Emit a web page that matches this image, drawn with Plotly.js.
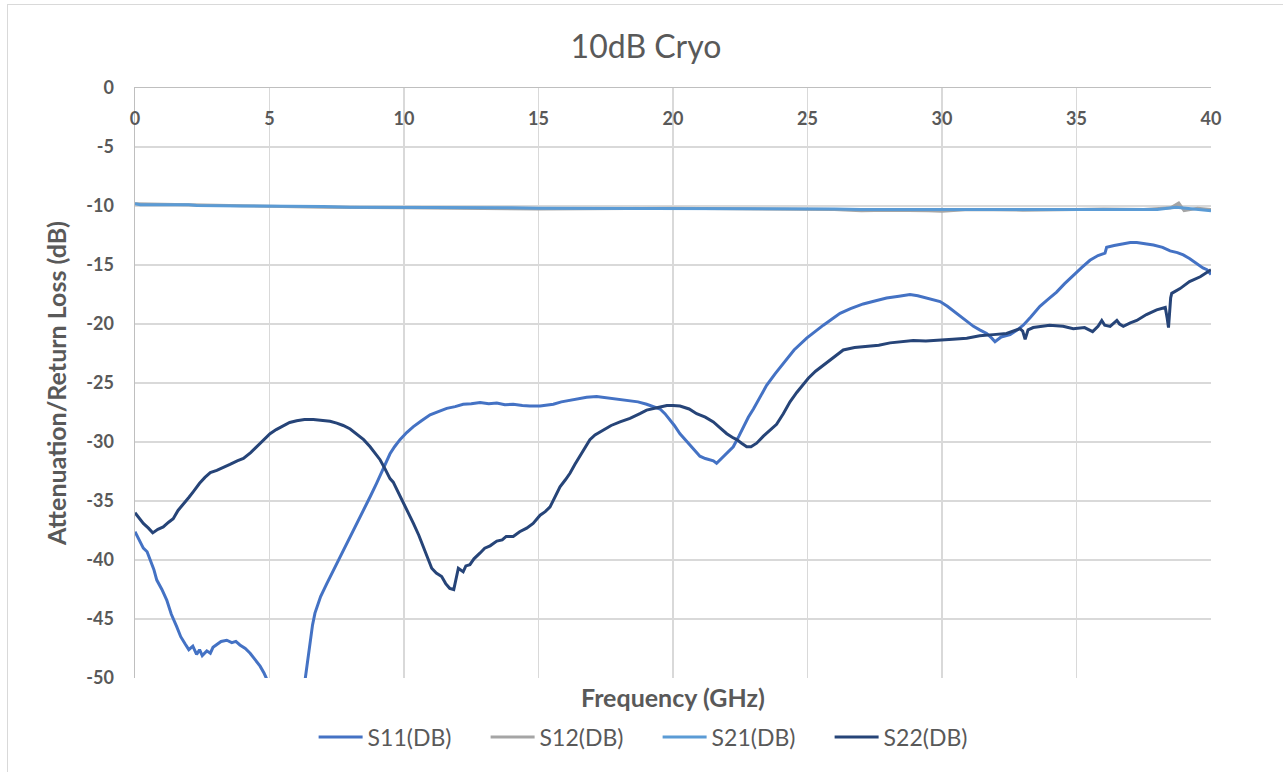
<!DOCTYPE html>
<html>
<head>
<meta charset="utf-8">
<script src="https://cdn.plot.ly/plotly-3.0.1.min.js"></script>
<style>
  html, body { margin: 0; padding: 0; background: #ffffff; overflow: hidden; }
  #chart { width: 1283px; height: 772px; position: absolute; left: 0; top: 0; }
  #frame { position: absolute; left: 7px; top: 4px; width: 1400px; height: 900px;
           border: 1.5px solid #d9d9d9; pointer-events: none; box-sizing: border-box; }
</style>
</head>
<body>
<div id="chart"></div>
<div id="frame"></div>
<script>
// ---------- data ----------
const chartTitle = "10dB Cryo";
const xTitle = "Frequency (GHz)";
const yTitle = "Attenuation/Return Loss (dB)";
const seriesNames = ["S11(DB)", "S12(DB)", "S21(DB)", "S22(DB)"];

const s11Freq = [0,0.15,0.31,0.45,0.56,0.7,0.81,1.0,1.18,1.35,1.55,1.7,1.86,2.0,2.15,2.29,2.4,2.5,2.67,2.8,2.9,3.04,3.2,3.41,3.6,3.75,3.9,4.1,4.28,4.45,4.65,4.8,4.9,5.1,5.4,5.7,6.0,6.2,6.32,6.45,6.51,6.6,6.69,6.9,7.13,7.35,7.56,7.8,8.0,8.25,8.49,8.75,8.98,9.2,9.48,9.65,9.85,10.1,10.35,10.65,10.97,11.3,11.59,11.9,12.2,12.5,12.83,13.15,13.45,13.75,14.06,14.4,14.68,15.06,15.3,15.55,15.85,16.17,16.5,16.79,17.16,17.5,17.78,18.1,18.4,18.7,19.02,19.3,19.52,19.7,19.89,20.05,20.26,20.45,20.63,20.8,21.0,21.2,21.38,21.5,21.62,21.8,22.0,22.24,22.45,22.61,22.8,22.99,23.2,23.36,23.48,23.8,24.1,24.5,24.97,25.3,25.59,25.9,26.21,26.6,27.07,27.5,27.94,28.4,28.81,29.1,29.43,29.7,29.93,30.2,30.55,30.85,31.17,31.4,31.66,31.85,31.97,32.2,32.53,32.8,33.02,33.3,33.64,33.95,34.26,34.55,34.88,35.2,35.5,35.8,36.06,36.12,36.4,36.74,37.0,37.24,37.55,37.86,38.2,38.48,38.75,38.97,39.2,39.47,39.7,39.85,40];
const s11Db = [-37.6,-38.3,-39.0,-39.3,-40.0,-40.8,-41.7,-42.5,-43.4,-44.6,-45.65,-46.5,-47.1,-47.6,-47.3,-48.0,-47.6,-48.1,-47.7,-47.9,-47.4,-47.2,-46.9,-46.8,-47.0,-46.9,-47.2,-47.5,-47.9,-48.4,-49.0,-49.6,-50.1,-51.5,-53,-54.5,-54,-52,-50.2,-48.0,-46.8,-45.5,-44.5,-43.1,-42.0,-41.0,-40.1,-39.0,-38.0,-37.0,-35.9,-34.6,-33.5,-32.4,-31.0,-30.4,-29.8,-29.2,-28.7,-28.2,-27.7,-27.4,-27.15,-27.0,-26.8,-26.75,-26.65,-26.75,-26.7,-26.85,-26.8,-26.9,-26.95,-26.95,-26.85,-26.8,-26.6,-26.45,-26.3,-26.2,-26.15,-26.25,-26.3,-26.45,-26.5,-26.6,-26.8,-27.0,-27.2,-27.6,-28.1,-28.6,-29.3,-29.8,-30.3,-30.7,-31.2,-31.4,-31.5,-31.6,-31.8,-31.4,-30.9,-30.4,-29.5,-28.7,-27.9,-27.2,-26.3,-25.6,-25.2,-24.2,-23.3,-22.2,-21.2,-20.6,-20.1,-19.6,-19.1,-18.7,-18.3,-18.05,-17.8,-17.65,-17.5,-17.6,-17.8,-17.95,-18.1,-18.5,-19.1,-19.6,-20.2,-20.5,-20.8,-21.2,-21.5,-21.1,-20.9,-20.5,-20.1,-19.4,-18.5,-17.9,-17.3,-16.6,-15.85,-15.2,-14.6,-14.2,-14.0,-13.5,-13.35,-13.2,-13.1,-13.1,-13.2,-13.3,-13.5,-13.8,-13.95,-14.15,-14.45,-14.9,-15.25,-15.4,-15.8];

const s12Freq = [0,2,5,7,10,12,13.5,15,20,24,26,27,28,29.5,30,31,33,35,36,37.5,38.5,38.8,39,39.5,40];
const s12Db = [-9.8,-9.9,-10.0,-10.1,-10.15,-10.2,-10.25,-10.25,-10.2,-10.25,-10.3,-10.4,-10.35,-10.4,-10.45,-10.3,-10.35,-10.3,-10.25,-10.3,-10.15,-9.75,-10.4,-10.2,-10.3];

const s21Freq = [0,0.2,2.0,2.3,4.0,5.0,6.0,7.0,8.0,10,12,14,15,17,20,21,23,25,26,27,28,30,32,33,34,35,36,37,38,38.7,39.5,40];
const s21Db = [-9.8,-9.9,-9.9,-9.95,-10.0,-10.0,-10.05,-10.05,-10.1,-10.1,-10.15,-10.15,-10.2,-10.2,-10.2,-10.2,-10.2,-10.2,-10.25,-10.3,-10.3,-10.3,-10.35,-10.3,-10.3,-10.3,-10.35,-10.3,-10.3,-10.1,-10.3,-10.4];

const s22Freq = [0,0.15,0.31,0.5,0.66,0.85,1.05,1.25,1.42,1.6,1.8,2.0,2.17,2.4,2.6,2.8,3.04,3.3,3.53,3.8,4.03,4.3,4.52,4.8,5.02,5.25,5.51,5.75,6.01,6.3,6.63,6.95,7.25,7.5,7.74,8.0,8.24,8.5,8.74,8.95,9.11,9.3,9.48,9.6,9.8,9.97,10.15,10.35,10.55,10.72,10.9,11.03,11.2,11.4,11.55,11.7,11.85,11.95,12.02,12.2,12.3,12.45,12.6,12.83,13.0,13.2,13.45,13.65,13.8,14.06,14.3,14.56,14.8,15.06,15.25,15.43,15.6,15.8,16.0,16.17,16.35,16.54,16.7,16.91,17.1,17.41,17.7,18.03,18.4,18.77,19.02,19.4,19.77,20.0,20.26,20.6,20.88,21.2,21.5,21.75,22.0,22.2,22.37,22.55,22.74,22.9,23.11,23.36,23.61,23.85,24.1,24.35,24.6,24.85,25.03,25.3,25.59,25.95,26.33,26.75,27.2,27.65,28.07,28.5,28.93,29.4,29.93,30.4,30.92,31.4,31.91,32.4,32.9,33.0,33.09,33.2,33.39,34.0,34.5,34.88,35.3,35.6,35.8,35.94,36.05,36.25,36.5,36.6,36.74,37.0,37.24,37.6,37.98,38.3,38.37,38.42,38.5,38.54,38.85,39.2,39.6,40];
const s22Db = [-36.0,-36.4,-36.9,-37.3,-37.7,-37.4,-37.2,-36.8,-36.5,-35.8,-35.2,-34.7,-34.2,-33.5,-33.0,-32.6,-32.4,-32.1,-31.9,-31.6,-31.4,-30.9,-30.4,-29.8,-29.3,-28.95,-28.6,-28.35,-28.2,-28.1,-28.1,-28.15,-28.25,-28.4,-28.6,-28.9,-29.3,-29.8,-30.4,-31.0,-31.5,-32.3,-33.1,-33.4,-34.3,-35.2,-36.0,-36.9,-37.9,-38.9,-40.0,-40.7,-41.1,-41.4,-42.0,-42.4,-42.5,-41.3,-40.7,-41.0,-40.5,-40.4,-39.9,-39.4,-39.0,-38.8,-38.4,-38.3,-38.0,-38.0,-37.6,-37.3,-36.9,-36.2,-35.9,-35.5,-34.7,-33.8,-33.2,-32.65,-31.9,-31.2,-30.5,-29.8,-29.4,-29.0,-28.6,-28.3,-28.0,-27.6,-27.3,-27.1,-26.9,-26.9,-26.95,-27.2,-27.6,-27.9,-28.3,-28.8,-29.3,-29.6,-29.8,-30.1,-30.4,-30.4,-30.1,-29.5,-29.0,-28.5,-27.6,-26.6,-25.8,-25.1,-24.6,-24.0,-23.5,-22.8,-22.2,-22.0,-21.9,-21.8,-21.6,-21.5,-21.4,-21.45,-21.4,-21.3,-21.2,-21.0,-20.9,-20.8,-20.4,-20.6,-21.3,-20.5,-20.3,-20.1,-20.2,-20.4,-20.3,-20.65,-20.2,-19.7,-20.1,-20.2,-19.7,-20.0,-20.2,-19.9,-19.7,-19.2,-18.8,-18.6,-19.5,-20.3,-17.8,-17.4,-17.0,-16.4,-16.0,-15.4];

const xTickVals = [0,5,10,15,20,25,30,35,40];
const xTickText = ["0","5","10","15","20","25","30","35","40"];
const yTickVals = [0,-5,-10,-15,-20,-25,-30,-35,-40,-45,-50];
const yTickText = ["0","-5","-10","-15","-20","-25","-30","-35","-40","-45","-50"];

// ---------- styling ----------
const colors = ["#4472C4", "#A5A5A5", "#5B9BD5", "#264478"];
const textColor = "#595959";
const fontFam = "Lato, 'Open Sans', sans-serif";

const xs = [s11Freq, s12Freq, s21Freq, s22Freq];
const ys = [s11Db, s12Db, s21Db, s22Db];
const traces = seriesNames.map((n, i) => ({
  type: "scatter", mode: "lines", name: n,
  x: xs[i], y: ys[i],
  xaxis: i === 3 ? "x2" : "x",
  line: { color: colors[i], width: 3 }
}));

const tickFont = { size: 18, color: textColor, family: fontFam, weight: "bold" };

const layout = {
  width: 1283, height: 772,
  paper_bgcolor: "#ffffff", plot_bgcolor: "#ffffff",
  margin: { l: 135, r: 72, t: 88, b: 94 },
  font: { family: fontFam, color: textColor },
  title: { text: chartTitle, font: { size: 32, color: textColor, family: fontFam },
           x: 646/1283, xref: "container", xanchor: "center",
           y: 1 - 47/772, yref: "container", yanchor: "middle" },
  xaxis: {
    range: [0, 40], side: "top", tickvals: xTickVals, ticktext: xTickText,
    showticklabels: false, ticks: "",
    showgrid: true, gridcolor: "#d9d9d9", gridwidth: 1.5,
    showline: true, linecolor: "#bfbfbf", linewidth: 1.5,
    zeroline: false, fixedrange: true
  },
  xaxis2: {
    range: [0, 40], overlaying: "x", anchor: "free", position: 1 - 18/590, side: "bottom",
    tickvals: xTickVals, ticktext: xTickText, ticks: "",
    tickfont: tickFont,
    showgrid: false, showline: false, zeroline: false, fixedrange: true
  },
  yaxis: {
    range: [-50, 0], tickvals: yTickVals, ticktext: yTickText,
    ticks: "outside", ticklen: 16, tickcolor: "rgba(0,0,0,0)",
    tickfont: tickFont,
    showgrid: true, gridcolor: "#d9d9d9", gridwidth: 1.5,
    showline: true, linecolor: "#bfbfbf", linewidth: 1.5,
    zeroline: false, fixedrange: true,
    title: { text: yTitle, standoff: 12, font: { size: 25, color: textColor, family: fontFam, weight: "bold" } }
  },
  annotations: [{
    text: xTitle, xref: "paper", yref: "paper", x: 0.5, y: 0,
    xanchor: "center", yanchor: "top", yshift: -2, showarrow: false,
    font: { size: 25, color: textColor, family: fontFam, weight: "bold" }
  }],
  showlegend: true,
  legend: {
    orientation: "h", x: 0.166, xanchor: "left", y: -0.1, yanchor: "middle",
    font: { size: 23, color: textColor, family: fontFam },
    itemwidth: 44,
    entrywidth: 113, entrywidthmode: "pixels", bgcolor: "rgba(0,0,0,0)"
  }
};

Plotly.newPlot("chart", traces, layout, { displayModeBar: false, staticPlot: true });
</script>
</body>
</html>
